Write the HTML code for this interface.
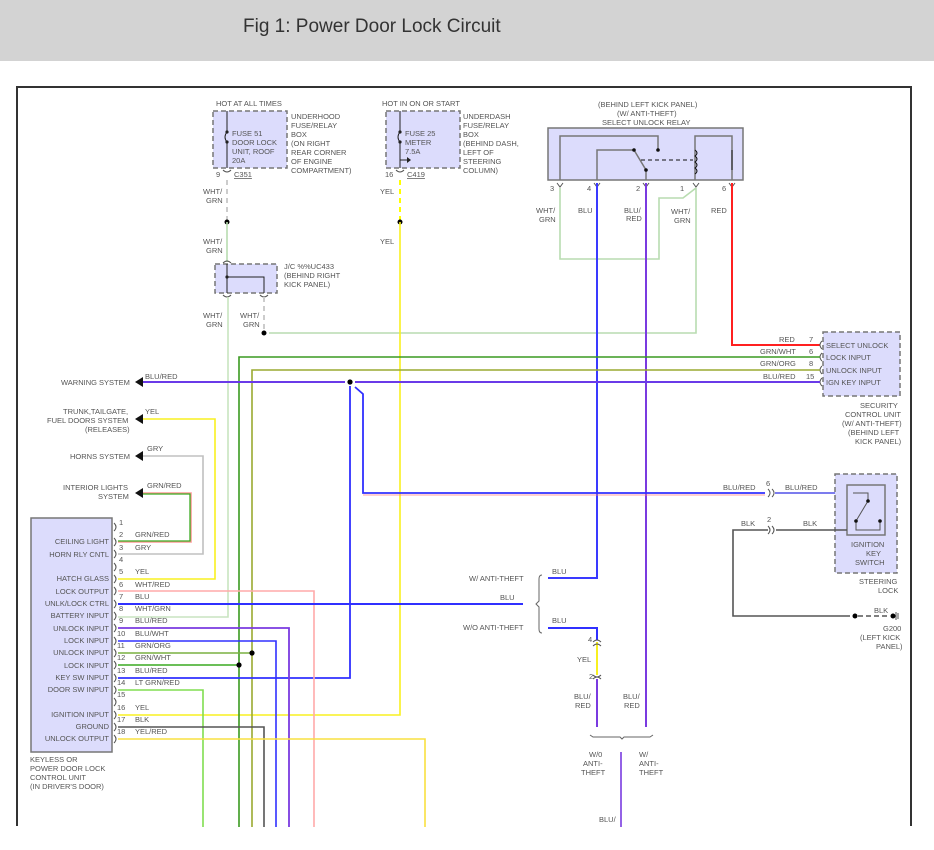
<!DOCTYPE html>
<html><head><meta charset="utf-8"><style>
html,body{margin:0;padding:0;background:#fff;width:934px;height:850px;overflow:hidden}
svg{display:block}
text{font-family:"Liberation Sans",sans-serif;font-size:7.5px;fill:#555}
.t{font-family:"Liberation Sans",sans-serif;font-size:19px;fill:#333}
.b{fill:#dcdcfc;stroke:#777;stroke-width:1.5;stroke-dasharray:5,3}
.s{fill:#dcdcfc;stroke:#777;stroke-width:1.5}
.w{fill:none;stroke-width:1.6}
</style></head><body>
<svg width="934" height="850" viewBox="0 0 934 850" xmlns="http://www.w3.org/2000/svg">
<rect x="0" y="0" width="934" height="61" fill="#d3d3d3"/>
<text x="243" y="32" class="t">Fig 1: Power Door Lock Circuit</text>
<!-- frame -->
<path d="M17 826 V87 H911 V826" fill="none" stroke="#333" stroke-width="2"/>

<!-- fuse boxes -->
<rect x="213" y="111" width="74" height="57" class="b"/>
<rect x="386" y="111" width="74" height="57" class="b"/>
<path d="M227 111 V132 M227 142 V168" stroke="#222" fill="none"/>
<path d="M227 132 q-4 5 0 10" stroke="#222" fill="none"/>
<circle cx="227" cy="132" r="1.6" fill="#222"/><circle cx="227" cy="142" r="1.6" fill="#222"/>
<path d="M400 111 V132 M400 142 V168 M400 160 H410" stroke="#222" fill="none"/>
<path d="M400 132 q-4 5 0 10" stroke="#222" fill="none"/>
<circle cx="400" cy="132" r="1.6" fill="#222"/><circle cx="400" cy="142" r="1.6" fill="#222"/>
<path d="M407 157 l4 3 l-4 3z" fill="#222"/>
<text x="216" y="106">HOT AT ALL TIMES</text>
<text x="232" y="136">FUSE 51</text><text x="232" y="145">DOOR LOCK</text><text x="232" y="154">UNIT, ROOF</text><text x="232" y="163">20A</text>
<text x="291" y="119">UNDERHOOD</text><text x="291" y="128">FUSE/RELAY</text><text x="291" y="137">BOX</text><text x="291" y="146">(ON RIGHT</text><text x="291" y="155">REAR CORNER</text><text x="291" y="164">OF ENGINE</text><text x="291" y="173">COMPARTMENT)</text>
<text x="382" y="106">HOT IN ON OR START</text>
<text x="405" y="136">FUSE 25</text><text x="405" y="145">METER</text><text x="405" y="154">7.5A</text>
<text x="463" y="119">UNDERDASH</text><text x="463" y="128">FUSE/RELAY</text><text x="463" y="137">BOX</text><text x="463" y="146">(BEHIND DASH,</text><text x="463" y="155">LEFT OF</text><text x="463" y="164">STEERING</text><text x="463" y="173">COLUMN)</text>
<text x="216" y="177">9</text><text x="234" y="177" text-decoration="underline">C351</text>
<text x="385" y="177">16</text><text x="407" y="177" text-decoration="underline">C419</text>
<path d="M223 170 q4 4 8 0 M396 170 q4 4 8 0" stroke="#555" fill="none"/>

<!-- WHT/GRN from fuse 51 -->
<path d="M227 180 V222" stroke="#ccc" stroke-width="2" stroke-dasharray="5,4"/>
<circle cx="227" cy="222" r="2.5" fill="#000"/>
<path d="M227 222 V262" class="w" stroke="#b8dcb0"/>
<text x="203" y="194">WHT/</text><text x="206" y="203">GRN</text>
<text x="203" y="244">WHT/</text><text x="206" y="253">GRN</text>
<rect x="215" y="264" width="62" height="29" class="b"/>
<path d="M227 264 V293 M227 277 H264 V293" stroke="#222" fill="none"/>
<circle cx="227" cy="277" r="1.6" fill="#222"/>
<path d="M223 263 q4 -4 8 0 M223 295 q4 4 8 0 M260 295 q4 4 8 0" stroke="#555" fill="none"/>
<text x="284" y="269">J/C %%UC433</text><text x="284" y="278">(BEHIND RIGHT</text><text x="284" y="287">KICK PANEL)</text>
<text x="203" y="318">WHT/</text><text x="206" y="327">GRN</text>
<text x="240" y="318">WHT/</text><text x="243" y="327">GRN</text>
<path d="M264 297 V330" stroke="#ccc" stroke-width="2" stroke-dasharray="5,4"/>
<circle cx="264" cy="333" r="2.5" fill="#000"/>
<path d="M269 333 H696 V188 M696 188 L683 198 H659 V259 H560 V188" class="w" stroke="#b8dcb0"/>
<path d="M228 297 V617 H118" class="w" stroke="#c8e4c0"/>

<!-- YEL from fuse 25 -->
<path d="M400 180 V222" stroke="#ff0" stroke-width="2" stroke-dasharray="5,4"/>
<circle cx="400" cy="222" r="2.5" fill="#000"/>
<path d="M400 222 V715 H118" class="w" stroke="#f8f020"/>
<text x="380" y="194">YEL</text><text x="380" y="244">YEL</text>

<!-- relay -->
<text x="598" y="107">(BEHIND LEFT KICK PANEL)</text>
<text x="617" y="116">(W/ ANTI-THEFT)</text>
<text x="602" y="125">SELECT UNLOCK RELAY</text>
<rect x="548" y="128" width="195" height="52" class="s"/>
<path d="M560 180 V136 H658 V150 M597 180 V150 H634 L646 170 V180 M695 180 V136 H732 V180" stroke="#777" stroke-width="1.5" fill="none"/>
<circle cx="658" cy="150" r="1.8" fill="#111"/><circle cx="634" cy="150" r="1.8" fill="#111"/><circle cx="646" cy="170" r="1.8" fill="#111"/>
<path d="M641 160 H693" stroke="#111" stroke-dasharray="4,3"/>
<path d="M695 150 q4 3 0 6 q4 3 0 6 q4 3 0 6 q4 3 0 6" stroke="#111" fill="none"/>
<path d="M732 150 V170" stroke="#111"/>
<path d="M557 183 l3 4 l3 -4 M594 183 l3 4 l3 -4 M643 183 l3 4 l3 -4 M693 183 l3 4 l3 -4 M729 183 l3 4 l3 -4" stroke="#555" fill="none"/>
<text x="550" y="191">3</text><text x="587" y="191">4</text><text x="636" y="191">2</text><text x="680" y="191">1</text><text x="722" y="191">6</text>
<text x="536" y="213">WHT/</text><text x="539" y="222">GRN</text>
<text x="578" y="213">BLU</text>
<text x="624" y="213">BLU/</text><text x="626" y="221">RED</text>
<text x="671" y="214">WHT/</text><text x="674" y="223">GRN</text>
<text x="711" y="213">RED</text>
<path d="M597 183 V578 H548" stroke="#3a3aff" stroke-width="2" fill="none"/>
<path d="M646 183 V727" stroke="#7a3ae0" stroke-width="2" fill="none"/>
<path d="M732 183 V345 H820" stroke="#ff2020" stroke-width="2" fill="none"/>

<!-- security unit -->
<rect x="823" y="332" width="77" height="64" class="b"/>
<text x="826" y="348">SELECT UNLOCK</text><text x="826" y="360">LOCK INPUT</text><text x="826" y="373">UNLOCK INPUT</text><text x="826" y="385">IGN KEY INPUT</text>
<path d="M822 341 q-4 4 0 8 M822 353 q-4 4 0 8 M822 366 q-4 4 0 8 M822 378 q-4 4 0 8" stroke="#555" fill="none"/>
<text x="779" y="342">RED</text><text x="809" y="342">7</text>
<text x="760" y="354">GRN/WHT</text><text x="809" y="354">6</text>
<text x="760" y="366">GRN/ORG</text><text x="809" y="366">8</text>
<text x="763" y="379">BLU/RED</text><text x="806" y="379">15</text>
<text x="860" y="408">SECURITY</text><text x="845" y="417">CONTROL UNIT</text><text x="842" y="426">(W/ ANTI-THEFT)</text><text x="848" y="435">(BEHIND LEFT</text><text x="855" y="444">KICK PANEL)</text>
<path d="M239 827 V357 H820" class="w" stroke="#3a9a20"/>
<path d="M252 827 V370 H820" class="w" stroke="#9aaa30"/>
<path d="M137 382 H345 M355 382 H820" stroke="#6a3ae8" stroke-width="2" fill="none"/>
<circle cx="350" cy="382" r="2.6" fill="#000"/>
<path d="M350 386 V678 H118" stroke="#3030ff" stroke-width="1.8" fill="none"/>
<path d="M355 387 L363 394 V493 H765" stroke="#3030ff" stroke-width="1.8" fill="none"/>
<path d="M363 495 H765" stroke="#ff8080" stroke-width="0.8"/>
<path d="M775 493 H835 M853 493" stroke="#5050e8" stroke-width="1.6" fill="none"/>

<!-- left system arrows -->
<path d="M135 382 l8 -5 v10z M135 419 l8 -5 v10z M135 456 l8 -5 v10z M135 493 l8 -5 v10z" fill="#111"/>
<text x="61" y="385">WARNING SYSTEM</text><text x="145" y="379">BLU/RED</text>
<text x="63" y="414">TRUNK,TAILGATE,</text><text x="47" y="423">FUEL DOORS SYSTEM</text><text x="85" y="432">(RELEASES)</text><text x="145" y="414">YEL</text>
<text x="70" y="459">HORNS SYSTEM</text><text x="147" y="451">GRY</text>
<text x="63" y="490">INTERIOR LIGHTS</text><text x="98" y="499">SYSTEM</text><text x="147" y="488">GRN/RED</text>
<path d="M143 419 H215 V579 H118" class="w" stroke="#f8f020"/>
<path d="M143 456 H203 V554 H118" class="w" stroke="#c0c0c0"/>
<path d="M143 493 H191 V542 H118" class="w" stroke="#ff9a9a"/>
<path d="M143 494 H190 V541 H118" stroke="#3aaa20" stroke-width="1.3" fill="none"/>

<!-- keyless unit -->
<rect x="31" y="518" width="81" height="234" class="s"/>
<g text-anchor="end">
<text x="109" y="544">CEILING LIGHT</text><text x="109" y="557">HORN RLY CNTL</text><text x="109" y="581">HATCH GLASS</text><text x="109" y="594">LOCK OUTPUT</text><text x="109" y="606">UNLK/LOCK CTRL</text><text x="109" y="618">BATTERY INPUT</text><text x="109" y="631">UNLOCK INPUT</text><text x="109" y="643">LOCK INPUT</text><text x="109" y="655">UNLOCK INPUT</text><text x="109" y="668">LOCK INPUT</text><text x="109" y="680">KEY SW INPUT</text><text x="109" y="692">DOOR SW INPUT</text><text x="109" y="717">IGNITION INPUT</text><text x="109" y="729">GROUND</text><text x="109" y="741">UNLOCK OUTPUT</text>
</g>
<g>
<text x="119" y="525">1</text><text x="119" y="537">2</text><text x="119" y="550">3</text><text x="119" y="562">4</text><text x="119" y="574">5</text><text x="119" y="587">6</text><text x="119" y="599">7</text><text x="119" y="611">8</text><text x="119" y="623">9</text><text x="117" y="636">10</text><text x="117" y="648">11</text><text x="117" y="660">12</text><text x="117" y="673">13</text><text x="117" y="685">14</text><text x="117" y="697">15</text><text x="117" y="710">16</text><text x="117" y="722">17</text><text x="117" y="734">18</text>
<text x="135" y="537">GRN/RED</text><text x="135" y="550">GRY</text><text x="135" y="574">YEL</text><text x="135" y="587">WHT/RED</text><text x="135" y="599">BLU</text><text x="135" y="611">WHT/GRN</text><text x="135" y="623">BLU/RED</text><text x="135" y="636">BLU/WHT</text><text x="135" y="648">GRN/ORG</text><text x="135" y="660">GRN/WHT</text><text x="135" y="673">BLU/RED</text><text x="135" y="685">LT GRN/RED</text><text x="135" y="710">YEL</text><text x="135" y="722">BLK</text><text x="135" y="734">YEL/RED</text>
</g>
<path d="M114 523 q4 4 0 8 M114 538 q4 4 0 8 M114 550 q4 4 0 8 M114 563 q4 4 0 8 M114 575 q4 4 0 8 M114 587 q4 4 0 8 M114 600 q4 4 0 8 M114 612 q4 4 0 8 M114 624 q4 4 0 8 M114 637 q4 4 0 8 M114 649 q4 4 0 8 M114 661 q4 4 0 8 M114 674 q4 4 0 8 M114 686 q4 4 0 8 M114 698 q4 4 0 8 M114 711 q4 4 0 8 M114 723 q4 4 0 8 M114 735 q4 4 0 8" stroke="#555" fill="none"/>
<text x="30" y="762">KEYLESS OR</text><text x="30" y="771">POWER DOOR LOCK</text><text x="30" y="780">CONTROL UNIT</text><text x="30" y="789">(IN DRIVER'S DOOR)</text>

<path d="M118 591 H314 V827" class="w" stroke="#ffaaaa"/>
<path d="M118 604 H523" stroke="#3030ff" stroke-width="2" fill="none"/>
<path d="M118 628 H289 V827" stroke="#7a3ae0" stroke-width="1.8" fill="none"/>
<path d="M118 641 H276 V827" stroke="#3030ff" stroke-width="1.6" fill="none"/>
<path d="M118 653 H252" class="w" stroke="#7ab040"/>
<path d="M118 665 H239" class="w" stroke="#3aaa20"/>
<circle cx="252" cy="653" r="2.6" fill="#000"/><circle cx="239" cy="665" r="2.6" fill="#000"/>
<path d="M118 690 H203 V827" class="w" stroke="#80dd50"/>
<path d="M118 727 H264 V827" class="w" stroke="#555"/>
<path d="M118 739 H425 V827" class="w" stroke="#f8e040"/>

<!-- anti-theft brace -->
<text x="469" y="581">W/ ANTI-THEFT</text><text x="552" y="574">BLU</text>
<text x="500" y="600">BLU</text>
<text x="463" y="630">W/O ANTI-THEFT</text><text x="552" y="623">BLU</text>
<path d="M542 575 q-3 0 -3 4 v22 l-3 3 l3 3 v22 q0 4 3 4" stroke="#666" fill="none"/>
<path d="M548 628 H597 V640" stroke="#3030ff" stroke-width="2" fill="none"/>
<path d="M597 642 V675" stroke="#f8f020" stroke-width="2"/>
<path d="M593 642 q4 -4 8 0 M593 646 q4 -4 8 0 M593 675 q4 4 8 0 M593 679 q4 -4 8 0" stroke="#555" fill="none"/>
<text x="588" y="642">4</text><text x="589" y="679">2</text><text x="577" y="662">YEL</text>
<path d="M597 679 V727" stroke="#7a3ae0" stroke-width="2"/>
<text x="574" y="699">BLU/</text><text x="575" y="708">RED</text>
<text x="623" y="699">BLU/</text><text x="624" y="708">RED</text>
<path d="M590 735 l3 2 H620 l2 2 l2 -2 H650 l3 -2" stroke="#666" fill="none"/>
<text x="589" y="757">W/0</text><text x="583" y="766">ANTI-</text><text x="581" y="775">THEFT</text>
<text x="639" y="757">W/</text><text x="639" y="766">ANTI-</text><text x="639" y="775">THEFT</text>
<path d="M621 752 V827" stroke="#7a3ae0" stroke-width="1.6"/>
<text x="599" y="822">BLU/</text>

<!-- ignition key switch -->
<rect x="835" y="474" width="62" height="99" class="b"/>
<rect x="847" y="485" width="38" height="50" class="s"/>
<path d="M853 493 H868 V501 L856 521 M856 522 V530 H880 V521" stroke="#555" fill="none"/>
<circle cx="868" cy="501" r="1.8" fill="#111"/><circle cx="856" cy="521" r="1.8" fill="#111"/><circle cx="880" cy="521" r="1.8" fill="#111"/>
<text x="851" y="547">IGNITION</text><text x="866" y="556">KEY</text><text x="855" y="565">SWITCH</text>
<text x="859" y="584">STEERING</text><text x="878" y="593">LOCK</text>
<text x="723" y="490">BLU/RED</text><text x="766" y="486">6</text><text x="785" y="490">BLU/RED</text>
<text x="741" y="526">BLK</text><text x="767" y="522">2</text><text x="803" y="526">BLK</text>
<path d="M768 489 q4 4 0 8 M772 489 q4 4 0 8 M768 526 q4 4 0 8 M772 526 q4 4 0 8" stroke="#555" fill="none"/>
<path d="M768 530 H733 V616 H850" stroke="#555" stroke-width="1.6" fill="none"/>
<path d="M776 530 H847" stroke="#555" stroke-width="1.6"/>
<circle cx="855" cy="616" r="2.5" fill="#000"/>
<path d="M858 616 H890" stroke="#555" stroke-width="1.6" stroke-dasharray="5,3"/>
<circle cx="893" cy="616" r="2.5" fill="#000"/>
<path d="M896 612 V620 M898 613 V619" stroke="#555"/>
<text x="874" y="613">BLK</text>
<text x="883" y="631">G200</text><text x="860" y="640">(LEFT KICK</text><text x="876" y="649">PANEL)</text>
</svg>
</body></html>
